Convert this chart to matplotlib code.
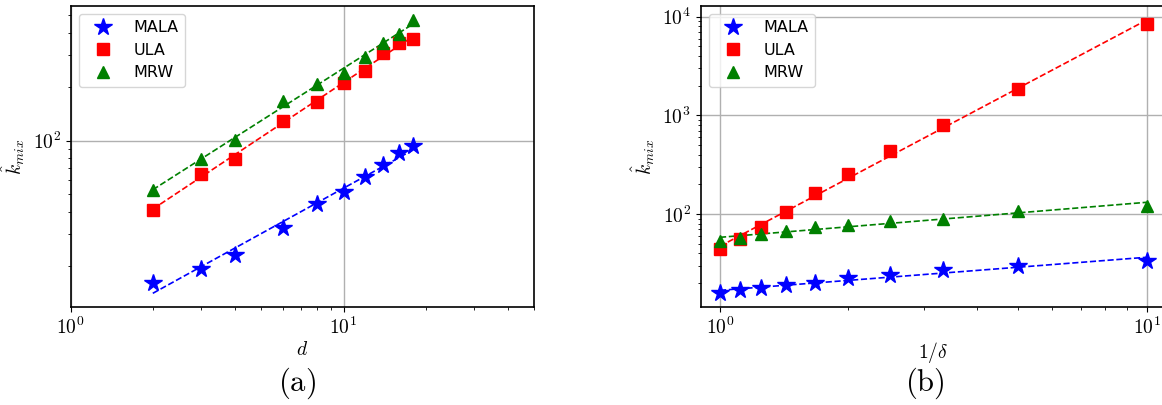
import numpy as np
import matplotlib
matplotlib.use("Agg")
import matplotlib.pyplot as plt
from matplotlib.ticker import FuncFormatter, NullFormatter

plt.rcParams["mathtext.fontset"] = "cm"

# Panel (a): mixing time vs dimension
dims = [2, 3, 4, 6, 8, 10, 12, 14, 16, 18]
mala_d = [16.1, 19.2, 23.0, 32.4, 44.1, 51.9, 63.0, 73.2, 85.0, 93.8]
ula_d = [41.2, 65.4, 79.3, 128.9, 164.5, 210.0, 246.0, 309.0, 353.0, 370.0]
mrw_d = [53.1, 79.3, 100.5, 166.6, 206.6, 240.0, 294.0, 351.0, 393.0, 472.0]

# Panel (b): mixing time vs inverse accuracy
inv_delta = [1 / 1.0, 1 / 0.9, 1 / 0.8, 1 / 0.7, 1 / 0.6, 1 / 0.5, 1 / 0.4, 1 / 0.3, 1 / 0.2, 1 / 0.1]
mala_b = [15.7, 17.0, 17.8, 19.2, 20.1, 22.3, 23.9, 27.1, 29.7, 33.4]
ula_b = [44.2, 55.4, 73.3, 104.0, 163.0, 256.0, 438.0, 803.0, 1834.0, 8350.0]
mrw_b = [53.3, 56.7, 62.3, 67.3, 74.4, 77.9, 84.9, 89.7, 107.0, 121.0]

series_names = ["MALA", "ULA", "MRW"]
colors = ["blue", "red", "green"]
markers = ["*", "s", "^"]
msizes = [13, 8, 8]

fig = plt.figure(figsize=(11.62, 4.05), dpi=100)
ax_a = fig.add_axes([0.0608, 0.2427, 0.399, 0.7425])
ax_b = fig.add_axes([0.603, 0.2427, 0.4004, 0.7425])

dec_fmt = FuncFormatter(lambda v, p: r"$10^{%d}$" % int(round(np.log10(v))))


def draw_panel(ax, x, ys):
    x = np.asarray(x, dtype=float)
    for y, name, c, m, ms in zip(ys, series_names, colors, markers, msizes):
        y = np.asarray(y, dtype=float)
        # least-squares power-law fit in log-log space
        slope, icpt = np.polyfit(np.log10(x), np.log10(y), 1)
        xf = np.array([x.min(), x.max()])
        ax.plot(xf, 10 ** (icpt + slope * np.log10(xf)), "--", color=c, lw=1.2, zorder=2)
        ax.plot(x, y, linestyle="none", marker=m, color=c, ms=ms, label=name, zorder=3)
    ax.set_xscale("log")
    ax.set_yscale("log")
    ax.grid(True, which="major", color="#b0b0b0", lw=1.0)
    ax.xaxis.set_major_formatter(dec_fmt)
    ax.yaxis.set_major_formatter(dec_fmt)
    ax.xaxis.set_minor_formatter(NullFormatter())
    ax.yaxis.set_minor_formatter(NullFormatter())
    ax.tick_params(labelsize=14)
    for s in ax.spines.values():
        s.set_linewidth(1.2)
    ax.legend(loc="upper left", fontsize=11.5, labelspacing=0.47, numpoints=1,
              handlelength=2.2, handletextpad=0.85)
    ax.set_ylabel(r"$\hat{k}_{mix}$", fontsize=14)


draw_panel(ax_a, dims, [mala_d, ula_d, mrw_d])
ax_a.set_xlim(1, 50)
ax_a.set_ylim(11.8, 565)
ax_a.set_xlabel(r"$d$", fontsize=14, labelpad=2)

draw_panel(ax_b, inv_delta, [mala_b, ula_b, mrw_b])
ax_b.set_xlim(0.901, 11.1)
ax_b.set_ylim(11.5, 12830)
ax_b.set_xlabel(r"$1/\delta$", fontsize=14, labelpad=2)

fig.text(0.2556, 0.054, r"$\mathrm{(a)}$", fontsize=22, ha="center", va="center")
fig.text(0.796, 0.054, r"$\mathrm{(b)}$", fontsize=22, ha="center", va="center")

fig.savefig("out.png", dpi=100)
